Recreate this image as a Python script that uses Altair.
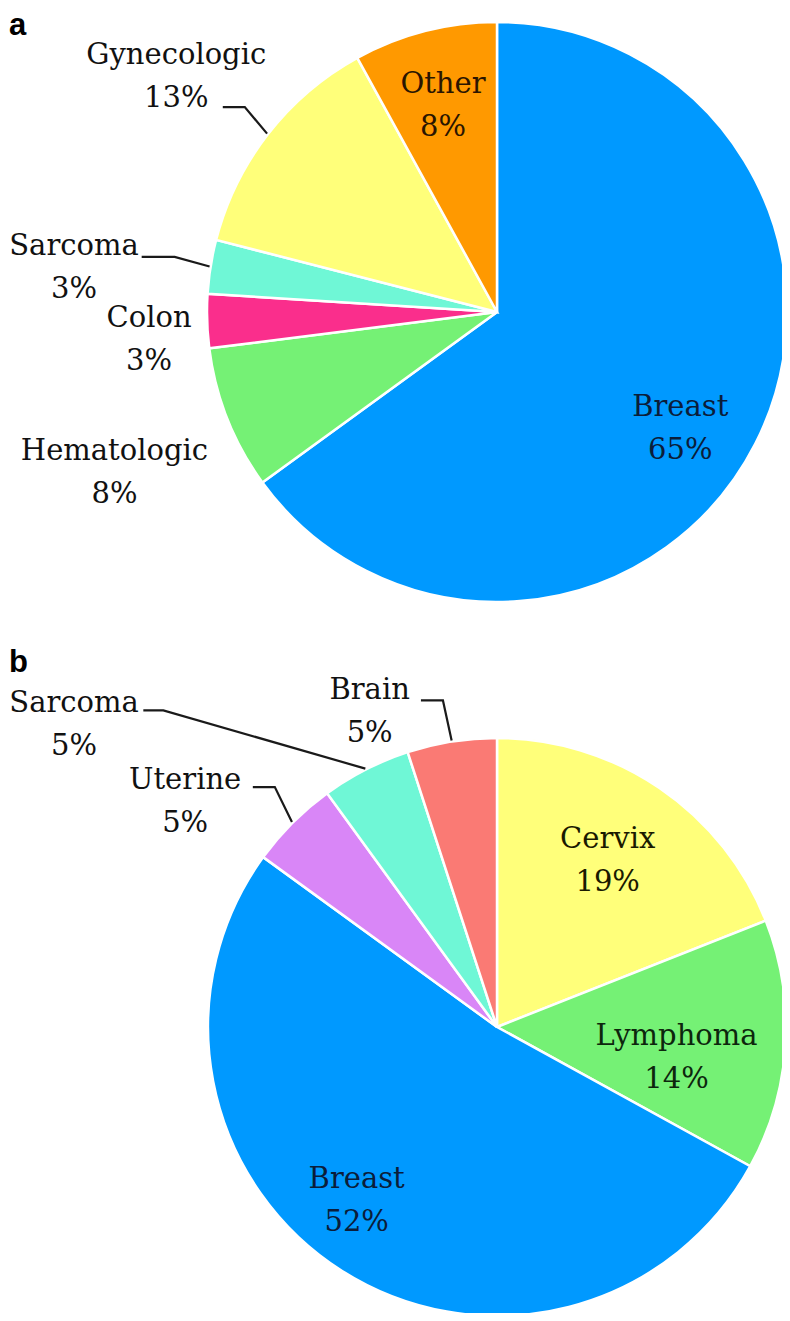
import math
import altair as alt
import pandas as pd

W, H = 774, 1305

# ---- data ----
cats_a = ["Breast", "Hematologic", "Colon", "Sarcoma", "Gynecologic", "Other"]
vals_a = [65, 8, 3, 3, 13, 8]
colors_a = ["#0099FF", "#75F175", "#FA2E8C", "#6FF7D6", "#FFFF7A", "#FF9900"]

cats_b = ["Cervix", "Lymphoma", "Breast", "Uterine", "Sarcoma", "Brain"]
vals_b = [19, 14, 52, 5, 5, 5]
colors_b = ["#FFFF7A", "#75F175", "#0099FF", "#D986F7", "#6FF7D6", "#FA7A74"]

panel_letters = ["a", "b"]

# ---- layout / style ----
pie_a = dict(cx=489, cy=304, R=290,
             nudge=[5.4, -1.2, -2.8, -3.06, -1.5, -0.3],
             lrad=[217, 415, 349, 425.3, 398, 213],
             tcol=["#0b1d3a", "#111111", "#111111", "#111111", "#111111", "#2a1500"],
             leaders=[("Gynecologic", 309.1, 325, 22), ("Sarcoma", 279.7, 327, 33)])
pie_b = dict(cx=489, cy=1019, R=289,
             nudge=[-0.6, 5.9, 6.6, -9.1, -27.47, -13.0],
             lrad=[200, 182, 223, 385, 519.7, 340],
             tcol=["#1a1a00", "#0d260d", "#0b1d3a", "#111111", "#111111", "#111111"],
             leaders=[("Sarcoma", 313.5, 460, 20), ("Brain", 350.6, 331, 22),
                      ("Uterine", 317.2, 327, 22)])

FONT = "DejaVu Serif"
xs = alt.Scale(domain=[0, W], nice=False, zero=False)
ys = alt.Scale(domain=[0, H], nice=False, zero=False, reverse=True)


def polar(cx, cy, r, deg):
    t = math.radians(deg)
    return cx + r * math.sin(t), cy - r * math.cos(t)


def build(cats, vals, colors, spec, key):
    cx, cy, R = spec["cx"], spec["cy"], spec["R"]
    total = sum(vals)
    mids, cum = [], 0
    for v in vals:
        mids.append((cum + v / 2) / total * 360)
        cum += v
    df = pd.DataFrame({"cat": cats, "value": vals, "idx": list(range(len(cats)))})
    arc = alt.Chart(df).mark_arc(outerRadius=R, stroke="white", strokeWidth=2.5).encode(
        theta=alt.Theta("value:Q", stack=True),
        color=alt.Color("cat:N", scale=alt.Scale(domain=cats, range=colors), legend=None),
        order=alt.Order("idx:Q"),
        x=alt.value(cx), y=alt.value(cy),
    )
    tdf = pd.DataFrame({
        "label": [f"{c}\n{v}%" for c, v in zip(cats, vals)],
        "th": [math.radians(m + n) for m, n in zip(mids, spec["nudge"])],
        "r": spec["lrad"],
        "tc": spec["tcol"],
    })
    text = alt.Chart(tdf).mark_text(font=FONT, fontSize=29, lineBreak="\n", lineHeight=43,
                                    align="center", baseline="middle", dy=-21.5).encode(
        theta=alt.Theta("th:Q", scale=None),
        radius=alt.Radius("r:Q", scale=None),
        text="label:N",
        color=alt.Color("tc:N", scale=None),
        x=alt.value(cx), y=alt.value(cy),
    )
    rows = []
    for cat, ang, rr, run in spec["leaders"]:
        i = cats.index(cat)
        ex, ey = polar(cx, cy, rr, ang)
        px, py = polar(cx, cy, R + 1, mids[i])
        g = f"{key}-{cat}"
        rows += [dict(x=ex - run, y=ey, g=g, o=0), dict(x=ex, y=ey, g=g, o=1),
                 dict(x=px, y=py, g=g, o=2)]
    ldf = pd.DataFrame(rows)
    lines = alt.Chart(ldf).mark_line(color="#1a1a1a", strokeWidth=2.2).encode(
        x=alt.X("x:Q", scale=xs, axis=None),
        y=alt.Y("y:Q", scale=ys, axis=None),
        detail="g:N", order="o:Q",
    )
    return [arc, text, lines]


layers = build(cats_a, vals_a, colors_a, pie_a, "a") + build(cats_b, vals_b, colors_b, pie_b, "b")

letters = pd.DataFrame({"t": panel_letters, "x": [1, 1], "y": [3, 640]})
letter_layer = alt.Chart(letters).mark_text(font="Liberation Sans", fontWeight="bold", fontSize=31,
                                            align="left", baseline="top", color="#000").encode(
    x=alt.X("x:Q", scale=xs, axis=None), y=alt.Y("y:Q", scale=ys, axis=None), text="t:N")

chart = alt.layer(*layers, letter_layer).resolve_scale(
    theta="independent", color="independent", radius="independent"
).properties(
    width=W, height=H, padding=0, autosize=alt.AutoSizeParams(type="none")
).configure_view(stroke=None)

chart.save("out.html", embed_options={"renderer": "svg", "actions": False})
